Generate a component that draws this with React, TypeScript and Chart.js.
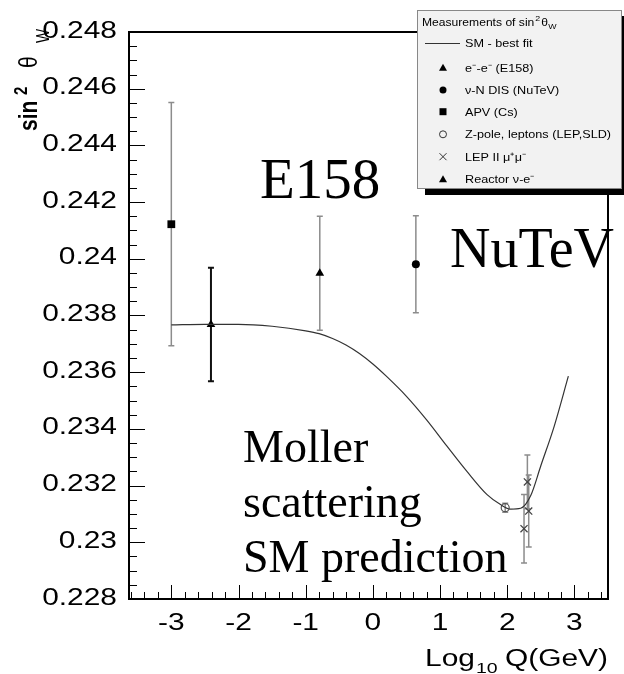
import React, { useEffect, useRef } from 'react';
import { Chart, registerables } from 'chart.js';

Chart.register(...registerables);

// SM best-fit curve
const smX = [-3.0, -2.5, -2.0, -1.5, -1.0, -0.8, -0.6, -0.4, -0.2, 0.0, 0.2, 0.5, 0.8, 1.1, 1.4, 1.7, 1.9, 2.05, 2.2, 2.35, 2.5, 2.7, 2.91];
const smY = [0.23767, 0.23769, 0.23769, 0.23762, 0.23746, 0.23736, 0.23719, 0.23696, 0.23666, 0.23629, 0.23586, 0.23515, 0.23432, 0.2334, 0.2325, 0.23168, 0.23133, 0.23117, 0.2312, 0.23165, 0.2327, 0.2341, 0.23586];

// Measurements
const apvX = [-3.0];
const apvY = [0.24122];
const apvErr = [0.00429];

const reactorX = [-2.41];
const reactorY = [0.23768];
const reactorErr = [0.002];

const e158X = [-0.79];
const e158Y = [0.23949];
const e158Err = [0.00201];

const nutevX = [0.64];
const nutevY = [0.23981];
const nutevErr = [0.00171];

const zpoleX = [1.97];
const zpoleY = [0.23122];
const zpoleErr = [0.00016];

const lep2X = [2.3, 2.32, 2.25];
const lep2Y = [0.23213, 0.2311, 0.23048];
const lep2Err = [0.00095, 0.00127, 0.00121];

// Axis ticks
const xTicks = [-3, -2, -1, 0, 1, 2, 3];
const xTickLabels = ['-3', '-2', '-1', '0', '1', '2', '3'];
const yTicks = [0.228, 0.23, 0.232, 0.234, 0.236, 0.238, 0.24, 0.242, 0.244, 0.246, 0.248];
const yTickLabels = ['0.228', '0.23', '0.232', '0.234', '0.236', '0.238', '0.24', '0.242', '0.244', '0.246', '0.248'];

const legendLabels = [
  'SM - best fit',
  'e\u207B-e\u207B (E158)',
  '\u03BD-N DIS (NuTeV)',
  'APV (Cs)',
  'Z-pole, leptons (LEP,SLD)',
  'LEP II \u03BC\u207A\u03BC\u207B',
  'Reactor \u03BD-e\u207B',
];

const SANS = '"Liberation Sans", Arial, sans-serif';
const SERIF = '"Liberation Serif", "Times New Roman", serif';
const SX = 1.3;

const pts = (xs: number[], ys: number[]) => xs.map((x, i) => ({ x, y: ys[i] }));

function sText(ctx: CanvasRenderingContext2D, text: string, x: number, y: number, font: string, align: CanvasTextAlign, sx: number) {
  ctx.save();
  ctx.translate(x, y);
  ctx.scale(sx, 1);
  ctx.font = font;
  ctx.textAlign = align;
  ctx.textBaseline = 'alphabetic';
  ctx.fillText(text, 0, 0);
  ctx.restore();
}

function drawMarker(ctx: CanvasRenderingContext2D, kind: string, x: number, y: number) {
  ctx.save();
  ctx.fillStyle = '#000';
  ctx.strokeStyle = '#000';
  ctx.lineWidth = 1;
  ctx.beginPath();
  if (kind === 'triangle') {
    ctx.moveTo(x, y - 4);
    ctx.lineTo(x + 4, y + 3);
    ctx.lineTo(x - 4, y + 3);
    ctx.closePath();
    ctx.fill();
  } else if (kind === 'circle') {
    ctx.arc(x, y, 3.5, 0, Math.PI * 2);
    ctx.fill();
  } else if (kind === 'rect') {
    ctx.rect(x - 3.5, y - 3.5, 7, 7);
    ctx.fill();
  } else if (kind === 'open') {
    ctx.strokeStyle = '#333';
    ctx.arc(x, y, 3.5, 0, Math.PI * 2);
    ctx.stroke();
  } else if (kind === 'cross') {
    ctx.strokeStyle = '#333';
    ctx.moveTo(x - 3.5, y - 3.5);
    ctx.lineTo(x + 3.5, y + 3.5);
    ctx.moveTo(x + 3.5, y - 3.5);
    ctx.lineTo(x - 3.5, y + 3.5);
    ctx.stroke();
  }
  ctx.restore();
}

const errorBarPlugin = {
  id: 'errorBars',
  beforeDatasetsDraw(chart: any) {
    const { ctx, scales } = chart;
    const xs = scales.x;
    const ys = scales.y;
    chart.data.datasets.forEach((ds: any) => {
      if (!ds.errs) return;
      ds.data.forEach((p: any, i: number) => {
        const px = xs.getPixelForValue(p.x);
        const top = ys.getPixelForValue(p.y + ds.errs[i]);
        const bot = ys.getPixelForValue(p.y - ds.errs[i]);
        ctx.save();
        ctx.strokeStyle = ds.errColor;
        ctx.lineWidth = ds.errWidth || 1.5;
        ctx.beginPath();
        ctx.moveTo(px, top);
        ctx.lineTo(px, bot);
        ctx.moveTo(px - 3, top);
        ctx.lineTo(px + 3, top);
        ctx.moveTo(px - 3, bot);
        ctx.lineTo(px + 3, bot);
        ctx.stroke();
        ctx.restore();
      });
    });
  },
};

const decorPlugin = {
  id: 'decor',
  afterDraw(chart: any) {
    const { ctx, chartArea, scales } = chart;
    const xs = scales.x;
    const ys = scales.y;
    const { left, right, top, bottom } = chartArea;

    // Annotations (serif)
    ctx.save();
    ctx.fillStyle = '#000';
    ctx.textBaseline = 'alphabetic';
    ctx.textAlign = 'left';
    ctx.font = `57px ${SERIF}`;
    ctx.fillText('E158', 260, 198);
    ctx.font = `56px ${SERIF}`;
    ctx.fillText('NuTeV', 450, 267);
    ctx.font = `46px ${SERIF}`;
    ctx.fillText('Moller', 243, 462);
    ctx.fillText('scattering', 243, 517);
    ctx.fillText('SM prediction', 243, 572);
    ctx.restore();

    // Frame
    ctx.save();
    ctx.strokeStyle = '#000';
    ctx.lineWidth = 2;
    ctx.strokeRect(left, top, right - left, bottom - top);
    ctx.restore();

    // Ticks (inward)
    ctx.save();
    ctx.strokeStyle = '#000';
    ctx.lineWidth = 1;
    ctx.beginPath();
    for (let k = 0; k <= 40; k++) {
      const v = 0.228 + k * 0.0005;
      const py = Math.round(ys.getPixelForValue(v)) + 0.5;
      const len = k % 4 === 0 ? 16 : 8;
      ctx.moveTo(left, py);
      ctx.lineTo(left + len, py);
    }
    for (let k = -18; k <= 17; k++) {
      const v = k * 0.2;
      const px = Math.round(xs.getPixelForValue(v)) + 0.5;
      const len = k % 5 === 0 ? 14 : 7;
      ctx.moveTo(px, bottom);
      ctx.lineTo(px, bottom - len);
    }
    ctx.stroke();
    ctx.restore();

    // Tick labels
    ctx.save();
    ctx.fillStyle = '#000';
    const tf = `23px ${SANS}`;
    yTicks.forEach((v, i) => {
      sText(ctx, yTickLabels[i], 117, ys.getPixelForValue(v) + 5.5, tf, 'right', SX);
    });
    xTicks.forEach((v, i) => {
      sText(ctx, xTickLabels[i], xs.getPixelForValue(v), 630, tf, 'center', SX);
    });

    // X title: Log10 Q(GeV), right aligned
    ctx.font = `23px ${SANS}`;
    const wA = ctx.measureText('Log').width * SX;
    const wC = ctx.measureText(' Q(GeV)').width * SX;
    ctx.font = `15px ${SANS}`;
    const wB = ctx.measureText('10').width * SX;
    const endX = 608;
    const startX = endX - (wA + wB + wC);
    sText(ctx, 'Log', startX, 666, `23px ${SANS}`, 'left', SX);
    sText(ctx, '10', startX + wA + 1, 673, `15px ${SANS}`, 'left', SX);
    sText(ctx, ' Q(GeV)', startX + wA + wB, 666, `23px ${SANS}`, 'left', SX);

    // Y title: sin^2 theta_W (rotated)
    const yt = (txt: string, off: number, bx: number, font: string) => {
      ctx.save();
      ctx.translate(bx, 131 - off);
      ctx.rotate(-Math.PI / 2);
      ctx.scale(1, 1.25);
      ctx.font = font;
      ctx.textAlign = 'left';
      ctx.textBaseline = 'alphabetic';
      ctx.fillText(txt, 0, 0);
      ctx.restore();
    };
    yt('sin', 0, 37, `bold 21px ${SANS}`);
    yt('2', 36, 27, `bold 15px ${SANS}`);
    yt('\u03B8', 63, 37, `21px ${SANS}`);
    yt('W', 88, 49, `15px ${SANS}`);
    ctx.restore();

    // Legend box with shadow
    ctx.save();
    ctx.fillStyle = '#000';
    ctx.fillRect(425, 16, 205, 179);
    ctx.fillStyle = '#f2f2f2';
    ctx.fillRect(417, 10, 205, 179);
    ctx.strokeStyle = '#888';
    ctx.lineWidth = 1;
    ctx.strokeRect(417.5, 10.5, 204, 178);

    ctx.fillStyle = '#000';
    const lf = `11px ${SANS}`;
    // Title
    ctx.font = lf;
    const tw = ctx.measureText('Measurements of sin').width * 1.1;
    sText(ctx, 'Measurements of sin', 422, 26, lf, 'left', 1.1);
    sText(ctx, '2', 422 + tw + 1, 21, `8px ${SANS}`, 'left', 1.1);
    sText(ctx, '\u03B8', 422 + tw + 7, 26, lf, 'left', 1.1);
    sText(ctx, 'W', 422 + tw + 14, 29, `8px ${SANS}`, 'left', 1.1);

    const rowsY = [43, 67.7, 90, 111.7, 134.3, 156.7, 179.3];
    const kinds = ['line', 'triangle', 'circle', 'rect', 'open', 'cross', 'triangle'];
    rowsY.forEach((ry, i) => {
      if (kinds[i] === 'line') {
        ctx.save();
        ctx.strokeStyle = '#333';
        ctx.lineWidth = 1;
        ctx.beginPath();
        ctx.moveTo(425, Math.round(ry) + 0.5);
        ctx.lineTo(460, Math.round(ry) + 0.5);
        ctx.stroke();
        ctx.restore();
      } else {
        drawMarker(ctx, kinds[i], 443, ry);
      }
      sText(ctx, legendLabels[i], 465, ry + 4, `11.5px ${SANS}`, 'left', 1.1);
    });
    ctx.restore();
  },
};

export default function App() {
  const canvasRef = useRef<HTMLCanvasElement | null>(null);

  useEffect(() => {
    document.body.style.margin = '0';
    const canvas = canvasRef.current;
    if (!canvas) return;
    const chart = new Chart(canvas, {
      type: 'scatter',
      data: {
        datasets: [
          {
            label: 'SM - best fit',
            data: pts(smX, smY),
            showLine: true,
            borderColor: '#333',
            borderWidth: 1.2,
            pointRadius: 0,
            cubicInterpolationMode: 'monotone',
            fill: false,
          } as any,
          {
            label: 'Reactor',
            data: pts(reactorX, reactorY),
            errs: reactorErr,
            errColor: '#111',
            errWidth: 2,
            pointStyle: 'triangle',
            pointRadius: 5,
            backgroundColor: '#000',
            borderColor: '#000',
            borderWidth: 0,
          } as any,
          {
            label: 'E158',
            data: pts(e158X, e158Y),
            errs: e158Err,
            errColor: '#8c8c8c',
            pointStyle: 'triangle',
            pointRadius: 5,
            backgroundColor: '#000',
            borderColor: '#000',
            borderWidth: 0,
          } as any,
          {
            label: 'APV',
            data: pts(apvX, apvY),
            errs: apvErr,
            errColor: '#8c8c8c',
            pointStyle: 'rect',
            pointRadius: 5.5,
            backgroundColor: '#000',
            borderColor: '#000',
            borderWidth: 0,
          } as any,
          {
            label: 'NuTeV',
            data: pts(nutevX, nutevY),
            errs: nutevErr,
            errColor: '#8c8c8c',
            pointStyle: 'circle',
            pointRadius: 4,
            backgroundColor: '#000',
            borderColor: '#000',
            borderWidth: 0,
          } as any,
          {
            label: 'Z-pole',
            data: pts(zpoleX, zpoleY),
            errs: zpoleErr,
            errColor: '#8c8c8c',
            pointStyle: 'circle',
            pointRadius: 4,
            backgroundColor: 'rgba(0,0,0,0)',
            borderColor: '#555',
            borderWidth: 1.2,
          } as any,
          {
            label: 'LEP II',
            data: pts(lep2X, lep2Y),
            errs: lep2Err,
            errColor: '#8c8c8c',
            pointStyle: 'crossRot',
            pointRadius: 5,
            borderColor: '#444',
            borderWidth: 1.3,
          } as any,
        ],
      },
      options: {
        animation: false,
        responsive: true,
        maintainAspectRatio: false,
        layout: { padding: { left: 129, top: 32, right: 16, bottom: 75 } },
        plugins: { legend: { display: false }, tooltip: { enabled: false } },
        scales: {
          x: { type: 'linear', min: -3.63, max: 3.5, display: false },
          y: { type: 'linear', min: 0.228, max: 0.248, display: false },
        },
      },
      plugins: [errorBarPlugin, decorPlugin],
    });
    return () => chart.destroy();
  }, []);

  return (
    <div style={{ position: 'absolute', left: 0, top: 0, width: 624, height: 674, background: '#fff' }}>
      <canvas ref={canvasRef} />
    </div>
  );
}
